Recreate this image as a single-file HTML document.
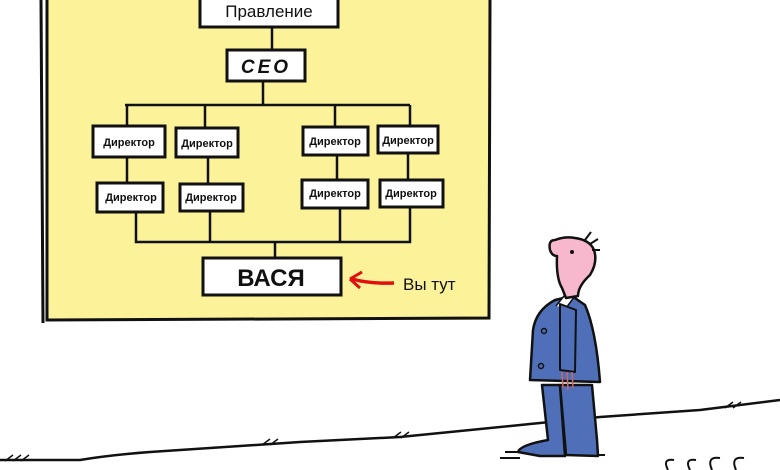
<!DOCTYPE html>
<html><head><meta charset="utf-8"><style>
body{margin:0;width:780px;height:470px;background:#fff;overflow:hidden}
svg{display:block}
text{font-family:"Comic Sans MS","Liberation Sans","DejaVu Sans",sans-serif;font-weight:bold;fill:#111}
</style></head><body>
<svg width="780" height="470" viewBox="0 0 780 470">
<rect x="46" y="0" width="443" height="320" fill="#fbf29a"/>
<g stroke="#111" stroke-width="3" fill="none">
<path d="M41 0 L43 323"/><path d="M47 0 L47 320 L489 318 L490 0"/>
</g>
<g stroke="#111" stroke-width="2.5" fill="none">
<path d="M272 27 V50"/><path d="M263 81 V105"/>
<path d="M125 105 H410"/>
<path d="M127 105 V128"/><path d="M205 105 V128"/><path d="M335 105 V127"/><path d="M410 105 V126"/>
<path d="M127 157 V183"/><path d="M208 157 V184"/><path d="M337 155 V180"/><path d="M408 153 V180"/>
<path d="M136 212 V242 H410 V207"/><path d="M210 211 V242"/><path d="M340 208 V242"/>
<path d="M275 242 V258"/>
</g>
<g stroke="#111" stroke-width="3" fill="#fff">
<rect x="200" y="-4" width="138" height="31"/>
<rect x="227" y="50" width="78" height="31"/>
<rect x="93" y="126" width="72" height="31"/>
<rect x="176" y="128" width="62" height="29"/>
<rect x="303" y="127" width="65" height="28"/>
<rect x="378" y="126" width="60" height="27"/>
<rect x="97" y="183" width="66" height="29"/>
<rect x="180" y="184" width="63" height="27"/>
<rect x="302" y="180" width="66" height="28"/>
<rect x="380" y="180" width="63" height="27"/>
<rect x="203" y="258" width="138" height="37"/>
</g>
<text x="269" y="17" font-size="17" text-anchor="middle" style="font-weight:normal">Правление</text>
<text x="266" y="73" font-size="19" text-anchor="middle" font-style="italic" letter-spacing="3">CEO</text>
<g font-size="11" text-anchor="middle">
<text x="129" y="146">Директор</text><text x="207" y="147">Директор</text>
<text x="335" y="145">Директор</text><text x="408" y="144">Директор</text>
<text x="131" y="201">Директор</text><text x="211" y="201">Директор</text>
<text x="335" y="197">Директор</text><text x="411" y="197">Директор</text>
</g>
<text x="271" y="286" font-size="24" text-anchor="middle">ВАСЯ</text>
<path d="M394 283 Q370 284 352 279" stroke="#e01010" stroke-width="3.5" fill="none"/>
<path d="M350 279 L362 272 M350 279 L360 288" stroke="#e01010" stroke-width="3" fill="none"/>
<text x="403" y="290" font-size="17" style="font-weight:normal">Вы тут</text>
<path d="M0 460 L80 460 Q110 455 150 452 L300 442 L400 437 L530 424 L600 417 L700 410 L780 400" stroke="#111" stroke-width="2.5" fill="none"/>
<path d="M5 461 l8 -6 M13 461 l8 -6 M21 461 l8 -6 M262 445 l8 -6 M270 445 l8 -6 M393 438 l8 -6 M401 438 l8 -6 M725 408 l8 -6 M733 408 l8 -6" stroke="#111" stroke-width="1.5"/>
<path d="M668 470 q-6 -12 6 -10 M690 470 q-6 -12 6 -10 M712 470 q-6 -14 8 -12 M736 470 q-6 -14 8 -12" stroke="#111" stroke-width="2" fill="none"/>
<path d="M505 452 L540 452 M500 458 L520 458 M580 455 L605 455" stroke="#111" stroke-width="2"/>
<!-- man -->
<g stroke="#111" stroke-width="2.5" stroke-linejoin="round">
<path d="M542 385 L548 440 Q520 445 518 452 L540 456 L565 456 L560 385 Z" fill="#4f6fb8"/>
<path d="M560 385 L566 455 L598 456 L597 440 L592 385 Z" fill="#4f6fb8"/>
<path d="M555 300 Q536 310 533 330 L530 380 L600 382 Q596 330 585 305 L572 296 Z" fill="#4f6fb8"/>
<path d="M556 306 L564 296 L575 296 L566 308" fill="#fff" stroke-width="1.5"/>
<path d="M560 304 L560 370 L575 372 L576 310 Z" fill="#4f6fb8" stroke-width="2"/>
<path d="M562 372 L563 388 M567 372 L568 390 M572 372 L573 388" stroke="#c66" stroke-width="1.5" fill="none"/>
<path d="M555 240 Q548 240 550 250 Q552 256 557 256 Q556 278 562 288 L566 298 L578 296 Q578 286 590 275 Q598 262 594 250 Q590 240 575 238 Q565 236 555 240 Z" fill="#f7b7cc"/>
<path d="M585 240 l6 -8 M590 244 l8 -5 M592 250 l8 0" fill="none" stroke-width="2"/>
<circle cx="572" cy="252" r="2" fill="#111" stroke="none"/>
<circle cx="544" cy="331" r="2.5" fill="none" stroke-width="1.5"/>
<circle cx="541" cy="366" r="2.5" fill="none" stroke-width="1.5"/>
</g>
</svg>
</body></html>
